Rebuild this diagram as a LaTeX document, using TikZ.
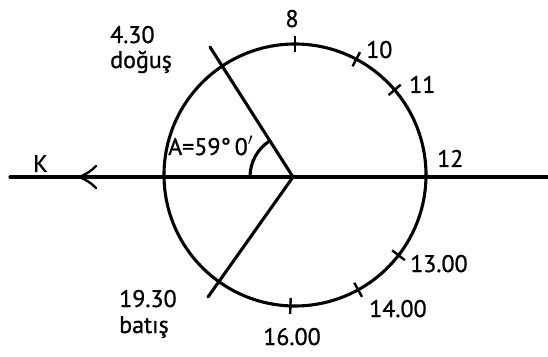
\documentclass[tikz,border=0pt]{standalone}
\usepackage{fontspec}
\setmainfont{PT Sans}
\newfontfamily\lblfont{PT Sans}[FakeBold=0.9]
\usetikzlibrary{calc}
\begin{document}
\begin{tikzpicture}[x=1pt,y=1pt,
  lbl/.style={inner sep=0pt,font=\lblfont\fontsize{24}{24}\selectfont},
  thick line/.style={line width=3.1pt,line cap=round,line join=round},
  tickmark/.style={line width=2.4pt}]
\useasboundingbox (0,0) rectangle (548,356);
\coordinate (C) at (295,181);
\coordinate (O) at (293,179);
\coordinate (W) at (10,179);
\coordinate (E) at (548,179);
\coordinate (D) at (210,309);
\coordinate (B) at (208,59);
% horizon line
\draw[thick line] (W) -- (E);
% circle
\draw[thick line] (C) circle (131);
% rising and setting lines
\draw[thick line] (O) -- (D);
\draw[thick line] (O) -- (B);
% arrow on the line
\coordinate (tip) at (79,179);
\coordinate (a1) at (96,190);
\coordinate (a2) at (96,168);
\draw[line width=2.4pt,line cap=round] (a1) to[bend left=12] (tip) to[bend left=12] (a2);
% angle arc
\draw[thick line] ($(O)+(180:43)$) arc[start angle=180,end angle=122.6,radius=43];
% ticks
\foreach \ang in {90,62.1,40.5,-37.8,-61.2,-92}{
  \draw[tickmark] ($(C)+(\ang:123)$) -- ($(C)+(\ang:139)$);
}
% labels
\node[lbl,anchor=base west] (t430) at (110,313) {4.30};
\node[lbl,anchor=base west] (tdog) at (110,288) {doğuş};
\node[lbl,anchor=base] (t8) at (292,329) {8};
\node[lbl,anchor=base west] (t10) at (366,298) {10};
\node[lbl,anchor=base west] (t11) at (409,263) {11};
\node[lbl,anchor=base west] (t12) at (437,189) {12};
\node[lbl,anchor=base west] (t13) at (410,84) {13.00};
\node[lbl,anchor=base west] (t14) at (369,39) {14.00};
\node[lbl,anchor=base] (t16) at (292,11) {16.00};
\node[lbl,anchor=base west] (t1930) at (119,49) {19.30};
\node[lbl,anchor=base west] (tbat) at (119,23) {batış};
\node[lbl,anchor=base west] (tK) at (33,184) {K};
\node[lbl,anchor=base west] (tA) at (168,201) {A=59°\,0$'$};
\end{tikzpicture}
\end{document}
